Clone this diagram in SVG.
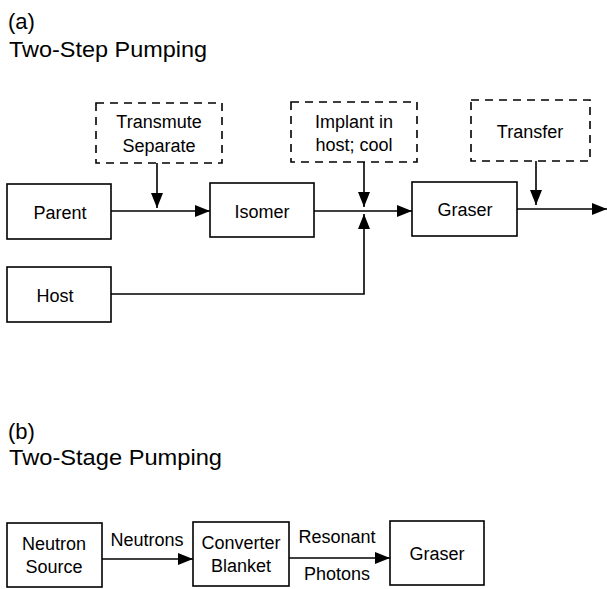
<svg xmlns="http://www.w3.org/2000/svg" width="607" height="589" viewBox="0 0 607 589">
<defs>
<marker id="ah" markerWidth="15" markerHeight="12" refX="15" refY="6" orient="auto" markerUnits="userSpaceOnUse">
<path d="M0,0 L15,6 L0,12 Z" fill="#000"/>
</marker>
<style>
text{font-family:"Liberation Sans",Arial,sans-serif;fill:#000}
.t{font-size:22px}
.l{font-size:18px;text-anchor:middle}
.box{fill:#fff;stroke:#000;stroke-width:1.6}
.dbox{fill:none;stroke:#000;stroke-width:1.6;stroke-dasharray:8 6}
.c{fill:none;stroke:#000;stroke-width:1.6}
</style>
</defs>
<rect width="607" height="589" fill="#fff"/>
<text class="t" x="8" y="29">(a)</text>
<text class="t" x="9" y="57" textLength="198" lengthAdjust="spacingAndGlyphs">Two-Step Pumping</text>
<text class="t" x="8" y="439">(b)</text>
<text class="t" x="9" y="465" textLength="213" lengthAdjust="spacingAndGlyphs">Two-Stage Pumping</text>

<g id="connectors">
<path class="c" d="M111,211 L210,211" marker-end="url(#ah)"/>
<path class="c" d="M157,163 L157,208" marker-end="url(#ah)"/>
<path class="c" d="M314,211 L412,211" marker-end="url(#ah)"/>
<path class="c" d="M364,162 L364,207" marker-end="url(#ah)"/>
<path class="c" d="M111,294 L364,294 L364,214" marker-end="url(#ah)"/>
<path class="c" d="M517,209 L607,209" marker-end="url(#ah)"/>
<path class="c" d="M536,161 L536,205" marker-end="url(#ah)"/>
<path class="c" d="M102,559 L193,559" marker-end="url(#ah)"/>
<path class="c" d="M289,558 L390,558" marker-end="url(#ah)"/>
<text class="l" x="147" y="546">Neutrons</text>
<text class="l" x="337" y="543">Resonant</text>
<text class="l" x="337" y="580">Photons</text>
</g>

<g id="transmute">
<rect class="dbox" x="96" y="103" width="126" height="60"/>
<text class="l" x="159" y="128">Transmute</text>
<text class="l" x="159" y="152">Separate</text>
</g>
<g id="implant">
<rect class="dbox" x="291" y="102" width="126" height="60"/>
<text class="l" x="354" y="128">Implant in</text>
<text class="l" x="354" y="151">host; cool</text>
</g>
<g id="transfer">
<rect class="dbox" x="471" y="100" width="119" height="61"/>
<text class="l" x="530" y="138">Transfer</text>
</g>
<g id="parent">
<rect class="box" x="7" y="184" width="104" height="55"/>
<text class="l" x="60" y="219">Parent</text>
</g>
<g id="isomer">
<rect class="box" x="210" y="183" width="104" height="54"/>
<text class="l" x="262" y="218">Isomer</text>
</g>
<g id="graser-a">
<rect class="box" x="412" y="182" width="105" height="54"/>
<text class="l" x="465" y="216">Graser</text>
</g>
<g id="host">
<rect class="box" x="7" y="267" width="104" height="55"/>
<text class="l" x="55" y="302">Host</text>
</g>
<g id="neutron-source">
<rect class="box" x="7" y="523" width="95" height="64"/>
<text class="l" x="54" y="550">Neutron</text>
<text class="l" x="54" y="573">Source</text>
</g>
<g id="converter">
<rect class="box" x="193" y="522" width="96" height="64"/>
<text class="l" x="241" y="549">Converter</text>
<text class="l" x="241" y="572">Blanket</text>
</g>
<g id="graser-b">
<rect class="box" x="390" y="521" width="94" height="64"/>
<text class="l" x="437" y="560">Graser</text>
</g>
</svg>
